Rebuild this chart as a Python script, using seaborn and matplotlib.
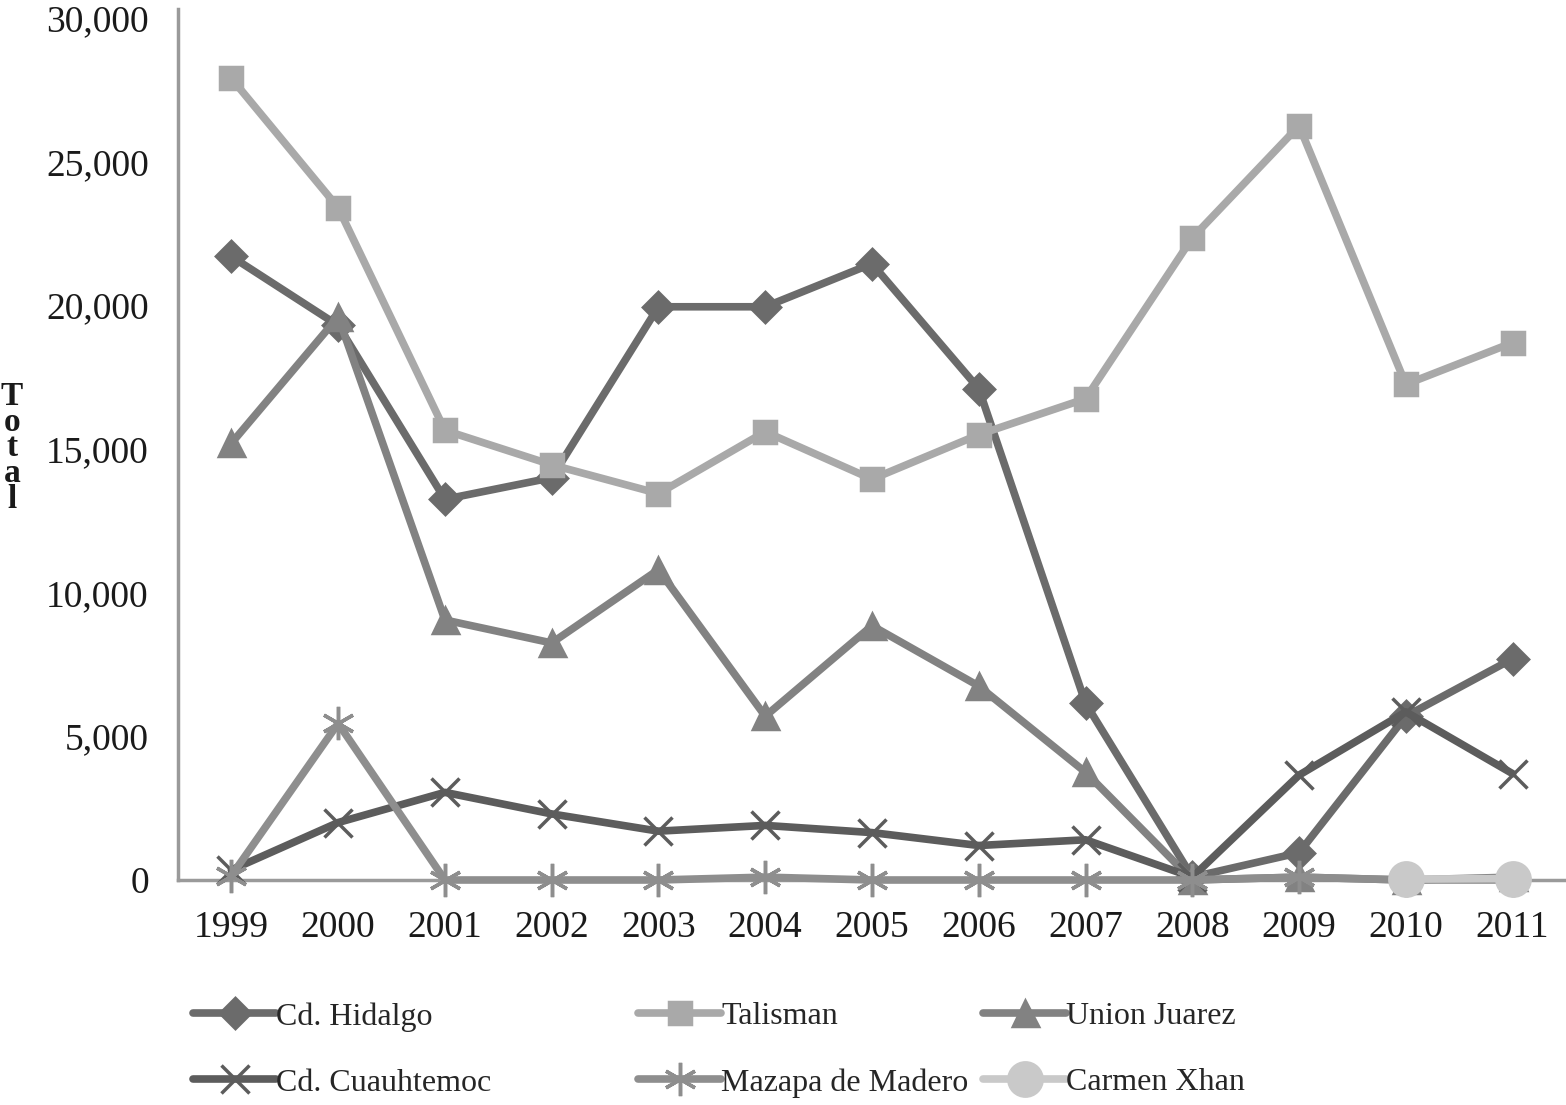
import matplotlib.pyplot as plt
import seaborn as sns
import pandas as pd
import numpy as np

# ---- data ----
years = ["1999", "2000", "2001", "2002", "2003", "2004", "2005",
         "2006", "2007", "2008", "2009", "2010", "2011"]

cd_hidalgo = [21700, 19300, 13250, 14000, 19950, 19950, 21450, 17100, 6150, 100, 950, 5700, 7700]
talisman = [27900, 23400, 15650, 14450, 13450, 15600, 13950, 15500, 16750, 22350, 26250, 17250, 18700]
union_juarez = [15200, 19600, 9050, 8250, 10800, 5700, 8850, 6750, 3750, 0, 100, 0, 100]
cd_cuauhtemoc = [350, 2000, 3050, 2300, 1700, 1900, 1650, 1200, 1400, 100, 3650, 5850, 3700]
mazapa = [150, 5450, 0, 0, 0, 100, 0, 0, 0, 0, 100, 0, 0]
carmen_xhan = [np.nan] * 11 + [30, 50]

series_names = ["Cd. Hidalgo", "Talisman", "Union Juarez",
                "Cd. Cuauhtemoc", "Mazapa de Madero", "Carmen Xhan"]
series_values = [cd_hidalgo, talisman, union_juarez, cd_cuauhtemoc, mazapa, carmen_xhan]

colors = ["#6b6b6b", "#a9a9a9", "#828282", "#5c5c5c", "#8e8e8e", "#c9c9c9"]
markers = ["D", "s", "^", "x", (6, 2, 0), "o"]
msizes = [15, 16, 18, 20, 24, 24]

sns.set_theme(style="white")
plt.rcParams["font.family"] = ["Liberation Serif", "DejaVu Serif"]

fig = plt.figure(figsize=(15.66, 11.05), dpi=100)
ax = fig.add_axes([178 / 1566, 225 / 1105, 1 - 178 / 1566, (880 - 18) / 1105])

for name, vals, c, m, ms in zip(series_names, series_values, colors, markers, msizes):
    df = pd.DataFrame({"Year": years, "Total": vals}).dropna()
    sns.lineplot(data=df, x="Year", y="Total", ax=ax, color=c, linewidth=5.5,
                 marker=m, markersize=ms, markeredgecolor=c, markeredgewidth=2.5,
                 label=name, sort=False)

# markers sitting on zero hang below the axis line, as in the reference
for ln in ax.lines:
    ln.set_clip_on(False)
    ln.set_zorder(3)

ax.set_xlim(-0.5, len(years) - 0.5)
ax.set_ylim(0, 30000)
ax.set_yticks(np.arange(0, 30001, 5000))
ax.set_yticklabels([f"{v:,}" for v in range(0, 30001, 5000)])
ax.tick_params(axis="both", labelsize=27, colors="#1a1a1a", length=0)
ax.tick_params(axis="x", pad=22)
ax.tick_params(axis="y", pad=21)

for side in ["top", "right"]:
    ax.spines[side].set_visible(False)
for side in ["left", "bottom"]:
    ax.spines[side].set_color("#9a9a9a")
    ax.spines[side].set_linewidth(2.5)
    ax.spines[side].set_zorder(2)
ax.spines["left"].set_bounds(0, 30300)

ax.set_xlabel("")
ax.set_ylabel("")
fig.text(12 / 1566, 1 - 448 / 1105, "T\no\nt\na\nl", fontsize=24, fontweight="bold",
         ha="center", va="center", linespacing=0.78, color="#1a1a1a")

# legend: three columns placed where the reference has them
handles, labels = ax.get_legend_handles_labels()
ax.get_legend().remove()
col_x = [193, 638, 983]
for i, x0 in enumerate(col_x):
    idx = [i, i + 3]
    fig.legend([handles[j] for j in idx], [labels[j] for j in idx],
               loc="upper left", bbox_to_anchor=(x0 / 1566, 1 - 1002 / 1105),
               frameon=False, fontsize=23, handlelength=2.6, handletextpad=0.0,
               labelspacing=1.15, borderaxespad=0, borderpad=0)

plt.savefig("out.png", dpi=100)
